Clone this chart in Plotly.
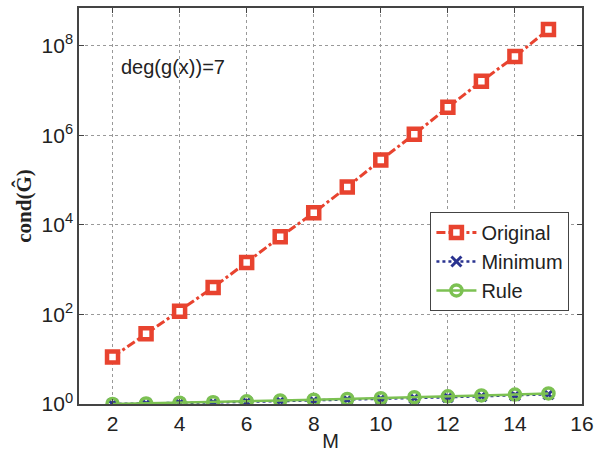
import plotly.graph_objects as go

M = list(range(2, 16))
original = [11.2, 37, 117, 400, 1450, 5400, 18600, 70000, 2.8e5, 1.05e6, 4.2e6, 1.6e7, 5.7e7, 2.3e8]
minimum = [1.0, 1.02, 1.05, 1.08, 1.12, 1.16, 1.2, 1.25, 1.3, 1.36, 1.42, 1.49, 1.56, 1.65]
rule = [1.0, 1.03, 1.07, 1.1, 1.15, 1.2, 1.25, 1.3, 1.35, 1.42, 1.48, 1.55, 1.62, 1.72]

x_ticks = [2, 4, 6, 8, 10, 12, 14, 16]
y_ticks = [1, 1e2, 1e4, 1e6, 1e8]
y_ticktext = ["10<sup>0</sup>", "10<sup>2</sup>", "10<sup>4</sup>", "10<sup>6</sup>", "10<sup>8</sup>"]

RED = "#e8432f"
BLUE = "#2a3390"
GREEN = "#7cc152"
FONT = "Liberation Sans, Arial"

fig = go.Figure()
fig.add_trace(go.Scatter(
    x=M, y=original, name="Original", mode="lines+markers",
    line=dict(color=RED, width=3, dash="dashdot"),
    marker=dict(symbol="square", size=11, color="white", line=dict(color=RED, width=4.5)),
))
fig.add_trace(go.Scatter(
    x=M, y=minimum, name="Minimum", mode="lines+markers",
    line=dict(color=BLUE, width=2.5, dash="dot"),
    marker=dict(symbol="x-thin", size=10, color=BLUE, line=dict(color=BLUE, width=3)),
))
fig.add_trace(go.Scatter(
    x=M, y=rule, name="Rule", mode="lines+markers",
    line=dict(color=GREEN, width=2.5),
    marker=dict(symbol="circle-open", size=11, color=GREEN, line=dict(color=GREEN, width=3.5)),
))

axis_common = dict(
    showline=True, linecolor="#444", linewidth=1.5, mirror="ticks",
    ticks="inside", ticklen=5, tickcolor="#444",
    showgrid=True, gridcolor="#999", griddash="dot", gridwidth=1,
    zeroline=False,
    tickfont=dict(family=FONT, size=21, color="#222"),
)

fig.update_xaxes(range=[1, 16], tickvals=x_ticks,
                 title=dict(text="M", font=dict(family=FONT, size=20, color="#222"), standoff=0),
                 **axis_common)
fig.update_yaxes(type="log", range=[0, 8.84], tickvals=y_ticks, ticktext=y_ticktext,
                 title=dict(text="<b>cond(Ĝ)</b>", font=dict(family="Liberation Serif, Times New Roman", size=21, color="#222"), standoff=4),
                 **axis_common)

fig.add_annotation(x=0.08, y=0.85, xref="paper", yref="paper", text="deg(g(x))=7",
                   showarrow=False, xanchor="left", yanchor="middle",
                   font=dict(family=FONT, size=20, color="#222"))

fig.update_layout(
    width=600, height=458,
    margin=dict(l=79, r=14, t=6, b=54),
    paper_bgcolor="white", plot_bgcolor="white",
    showlegend=True,
    legend=dict(x=0.975, y=0.485, xanchor="right", yanchor="top",
                bordercolor="#444", borderwidth=1, bgcolor="white",
                font=dict(family=FONT, size=20, color="#222"),
                itemwidth=40, tracegroupgap=0),
)

fig.write_html("out.html")
